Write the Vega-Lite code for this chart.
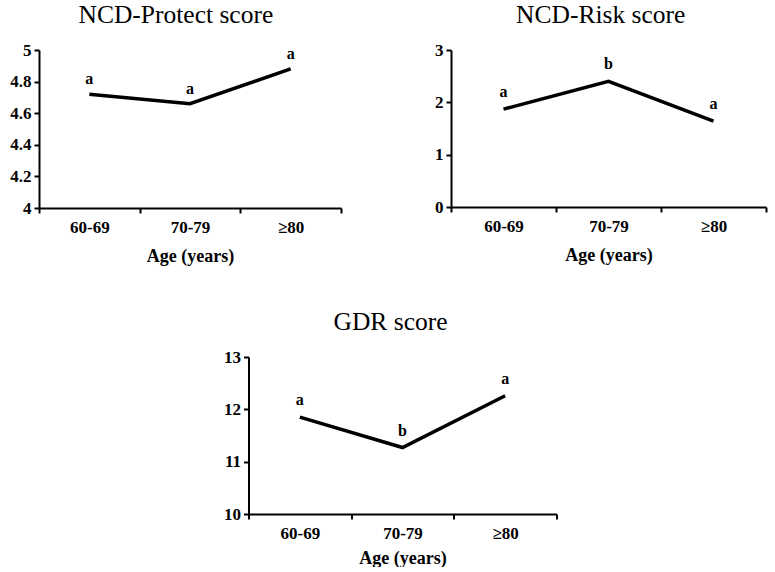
{
  "$schema": "https://vega.github.io/schema/vega-lite/v6.json",
  "background": "white",
  "padding": {"left": 9, "top": 2, "right": 5, "bottom": 0},
  "datasets": {
    "scores": [
      {"panel": "protect", "age": "60-69", "value": 4.72, "letter": "a"},
      {"panel": "protect", "age": "70-79", "value": 4.66, "letter": "a"},
      {"panel": "protect", "age": "≥80", "value": 4.88, "letter": "a"},
      {"panel": "risk", "age": "60-69", "value": 1.87, "letter": "a"},
      {"panel": "risk", "age": "70-79", "value": 2.4, "letter": "b"},
      {"panel": "risk", "age": "≥80", "value": 1.64, "letter": "a"},
      {"panel": "gdr", "age": "60-69", "value": 11.85, "letter": "a"},
      {"panel": "gdr", "age": "70-79", "value": 11.27, "letter": "b"},
      {"panel": "gdr", "age": "≥80", "value": 12.26, "letter": "a"}
    ]
  },
  "config": {
    "view": {"stroke": null},
    "font": "Liberation Serif",
    "title": {"font": "Liberation Serif", "fontSize": 25.5, "fontWeight": "normal", "color": "black", "frame": "bounds", "anchor": "middle", "offset": 13},
    "axis": {
      "grid": false,
      "domainColor": "black", "domainWidth": 2,
      "tickColor": "black", "tickWidth": 2, "tickSize": 5,
      "labelFont": "Liberation Serif", "labelFontWeight": "bold", "labelFontSize": 17, "labelColor": "black",
      "titleFont": "Liberation Serif", "titleFontWeight": "bold", "titleFontSize": 18, "titleColor": "black"
    },
    "axisX": {"labelAngle": 0, "tickBand": "extent", "labelPadding": 6, "titlePadding": 12},
    "axisY": {"title": null, "labelPadding": 3}
  },
  "vconcat": [
    {
      "spacing": 92,
      "hconcat": [
        {
          "title": "NCD-Protect score",
          "width": 302, "height": 158,
          "data": {"name": "scores"},
          "transform": [{"filter": "datum.panel === 'protect'"}],
          "encoding": {
            "x": {"field": "age", "type": "ordinal", "sort": null, "title": "Age (years)", "scale": {"type": "band", "paddingInner": 0, "paddingOuter": 0}},
            "y": {"field": "value", "type": "quantitative", "scale": {"domain": [4, 5], "nice": false, "zero": false}, "axis": {"values": [4, 4.2, 4.4, 4.6, 4.8, 5], "format": "~g"}}
          },
          "layer": [
            {"mark": {"type": "line", "color": "black", "strokeWidth": 3.5}},
            {"mark": {"type": "text", "fontWeight": "bold", "fontSize": 16, "dy": -15, "color": "black", "font": "Liberation Serif"}, "encoding": {"text": {"field": "letter"}}}
          ]
        },
        {
          "title": "NCD-Risk score",
          "width": 315, "height": 157,
          "data": {"name": "scores"},
          "transform": [{"filter": "datum.panel === 'risk'"}],
          "encoding": {
            "x": {"field": "age", "type": "ordinal", "sort": null, "title": "Age (years)", "scale": {"type": "band", "paddingInner": 0, "paddingOuter": 0}},
            "y": {"field": "value", "type": "quantitative", "scale": {"domain": [0, 3], "nice": false}, "axis": {"values": [0, 1, 2, 3], "format": "~g"}}
          },
          "layer": [
            {"mark": {"type": "line", "color": "black", "strokeWidth": 3.5}},
            {"mark": {"type": "text", "fontWeight": "bold", "fontSize": 16, "dy": -17, "color": "black", "font": "Liberation Serif"}, "encoding": {"text": {"field": "letter"}}}
          ]
        }
      ]
    },
    {
      "title": "GDR score",
      "width": 308, "height": 157,
      "data": {"name": "scores"},
      "transform": [{"filter": "datum.panel === 'gdr'"}],
      "encoding": {
        "x": {"field": "age", "type": "ordinal", "sort": null, "title": "Age (years)", "scale": {"type": "band", "paddingInner": 0, "paddingOuter": 0}, "axis": {"titlePadding": 8}},
        "y": {"field": "value", "type": "quantitative", "scale": {"domain": [10, 13], "nice": false, "zero": false}, "axis": {"values": [10, 11, 12, 13], "format": "~g"}}
      },
      "layer": [
        {"mark": {"type": "line", "color": "black", "strokeWidth": 3.5}},
        {"mark": {"type": "text", "fontWeight": "bold", "fontSize": 16, "dy": -17, "color": "black", "font": "Liberation Serif"}, "encoding": {"text": {"field": "letter"}}}
      ]
    }
  ],
  "spacing": 44,
  "center": true
}
